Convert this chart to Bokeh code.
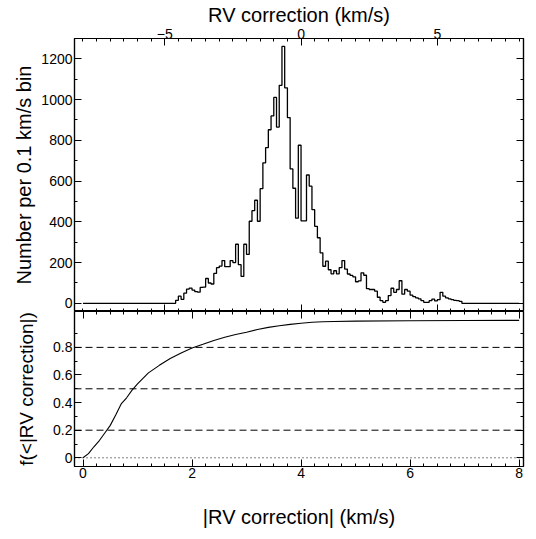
import numpy as np

from bokeh.embed import file_html
from bokeh.layouts import column
from bokeh.models import FixedTicker, LinearAxis, Range1d, SingleIntervalTicker, Span
from bokeh.plotting import figure
from bokeh.resources import INLINE

# histogram of RV corrections, 0.1 km/s bins, first bin starts at -4.6 km/s
bin_width = 0.1
first_edge = -4.6
counts = [15, 35, 20, 50, 70, 75, 65, 58, 55, 78,
          80, 122, 100, 95, 147, 175, 183, 210, 180, 180,
          210, 200, 290, 190, 132, 290, 240, 403, 455, 506,
          403, 563, 690, 764, 852, 920, 1011, 865, 1070, 1261,
          1058, 912, 660, 565, 418, 776, 405, 405, 630, 575,
          460, 378, 322, 248, 182, 207, 165, 145, 160, 145,
          175, 210, 168, 144, 137, 130, 106, 110, 150, 138,
          72, 68, 68, 60, 30, 13, 5, 13, 38, 74,
          54, 68, 111, 45, 68, 60, 40, 33, 27, 22,
          13, 5, 5, 13, 21, 12, 18, 54, 35, 27,
          22, 18, 15, 13, 10]
hist_lo, hist_hi = -8.0, 8.0

# cumulative fraction below |RV correction|
cdf_x = [0.0, 0.1, 0.2, 0.3, 0.4, 0.5, 0.6, 0.7, 0.8, 0.9, 1.0, 1.2, 1.4, 1.6,
         1.8, 2.0, 2.2, 2.4, 2.6, 2.8, 3.0, 3.2, 3.4, 3.6, 3.8, 4.0, 4.2, 4.4,
         4.6, 5.0, 6.0, 7.0, 8.0]
cdf_f = [0.0, 0.03, 0.08, 0.125, 0.18, 0.235, 0.31, 0.39, 0.435, 0.49, 0.535,
         0.615, 0.67, 0.72, 0.76, 0.795, 0.822, 0.85, 0.873, 0.893, 0.91, 0.93,
         0.945, 0.957, 0.967, 0.975, 0.982, 0.986, 0.988, 0.99, 0.993, 0.995,
         0.996]

dash_levels = [0.2, 0.5, 0.8]

FONT = "Liberation Sans"


def style_axis(ax, labels=True):
    ax.axis_line_color = "black"
    ax.axis_line_width = 1.2
    ax.major_tick_line_color = "black"
    ax.minor_tick_line_color = "black"
    ax.major_tick_in = 7
    ax.major_tick_out = 0
    ax.minor_tick_in = 3
    ax.minor_tick_out = 0
    ax.major_label_text_font = FONT
    ax.major_label_text_font_size = "14px"
    ax.major_label_text_color = "black"
    ax.major_label_standoff = 2
    ax.axis_label_text_font = FONT
    ax.axis_label_text_font_size = "20px"
    ax.axis_label_text_font_style = "normal"
    ax.axis_label_text_color = "black"
    if not labels:
        # mirrored axis: ticks only
        ax.major_label_text_color = None
        ax.major_label_text_font_size = "1px"
        ax.major_label_standoff = 0


def base_fig(**kw):
    p = figure(output_backend="svg", toolbar_location=None,
               min_border_left=74, min_border_right=9, **kw)
    p.xgrid.grid_line_color = None
    p.ygrid.grid_line_color = None
    p.outline_line_color = "black"
    p.outline_line_width = 1.2
    p.background_fill_color = "white"
    p.border_fill_color = "white"
    return p


# ---- top panel: histogram
p1 = base_fig(frame_width=449, frame_height=273, x_axis_location="above",
              x_range=Range1d(-8.31, 8.16), y_range=Range1d(-40, 1300),
              min_border_top=0, min_border_bottom=0)

nbin = int(round((hist_hi - hist_lo) / bin_width))
full = np.zeros(nbin)
i0 = int(round((first_edge - hist_lo) / bin_width))
full[i0:i0 + len(counts)] = counts
edges = hist_lo + bin_width * np.arange(nbin + 1)
p1.step(edges, np.append(full, 0), mode="after", line_color="black", line_width=1.3)

ax = p1.xaxis[0]
ax.ticker = SingleIntervalTicker(interval=5, num_minor_ticks=10)
ax.axis_label = "RV correction (km/s)"
style_axis(ax)
ax.major_label_standoff = 0
ax.axis_label_standoff = 0
ax.major_label_overrides = {-5: "\u22125"}

ax = LinearAxis(ticker=SingleIntervalTicker(interval=5, num_minor_ticks=10))
style_axis(ax, labels=False)
p1.add_layout(ax, "below")

ay = p1.yaxis[0]
ay.ticker = SingleIntervalTicker(interval=200, num_minor_ticks=2)
ay.axis_label = "Number per 0.1 km/s bin"
style_axis(ay)
ay.axis_label_standoff = 3

ay = LinearAxis(ticker=SingleIntervalTicker(interval=200, num_minor_ticks=2))
style_axis(ay, labels=False)
p1.add_layout(ay, "right")

# ---- bottom panel: cumulative distribution
p2 = base_fig(frame_width=449, frame_height=155,
              x_range=Range1d(-0.156, 8.08), y_range=Range1d(-0.063, 1.06),
              min_border_top=0, min_border_bottom=0)

for lv in dash_levels:
    p2.add_layout(Span(location=lv, dimension="width", line_color="black",
                       line_width=1, line_dash="7 4"))
p2.add_layout(Span(location=0.0, dimension="width", line_color="black",
                   line_width=1, line_dash="1 3"))

p2.line(cdf_x, cdf_f, line_color="black", line_width=1.1)

ax = p2.xaxis[0]
ax.ticker = SingleIntervalTicker(interval=2, num_minor_ticks=8)
ax.axis_label = "|RV correction| (km/s)"
style_axis(ax)
ax.major_label_standoff = 1
ax.axis_label_standoff = 25

ax = LinearAxis(ticker=SingleIntervalTicker(interval=2, num_minor_ticks=8))
style_axis(ax, labels=False)
p2.add_layout(ax, "above")

fy_major = [0.0, 0.2, 0.4, 0.6, 0.8]
fy_minor = [0.1, 0.3, 0.5, 0.7, 0.9]
ay = p2.yaxis[0]
ay.ticker = FixedTicker(ticks=fy_major, minor_ticks=fy_minor)
ay.axis_label = "f(<|RV correction|)"
style_axis(ay)
ay.axis_label_text_font_size = "19px"
ay.axis_label_standoff = 13

ay = LinearAxis(ticker=FixedTicker(ticks=fy_major, minor_ticks=fy_minor))
style_axis(ay, labels=False)
p2.add_layout(ay, "right")

layout = column(p1, p2, spacing=0)

open("out.html", "w").write(file_html(layout, INLINE))
